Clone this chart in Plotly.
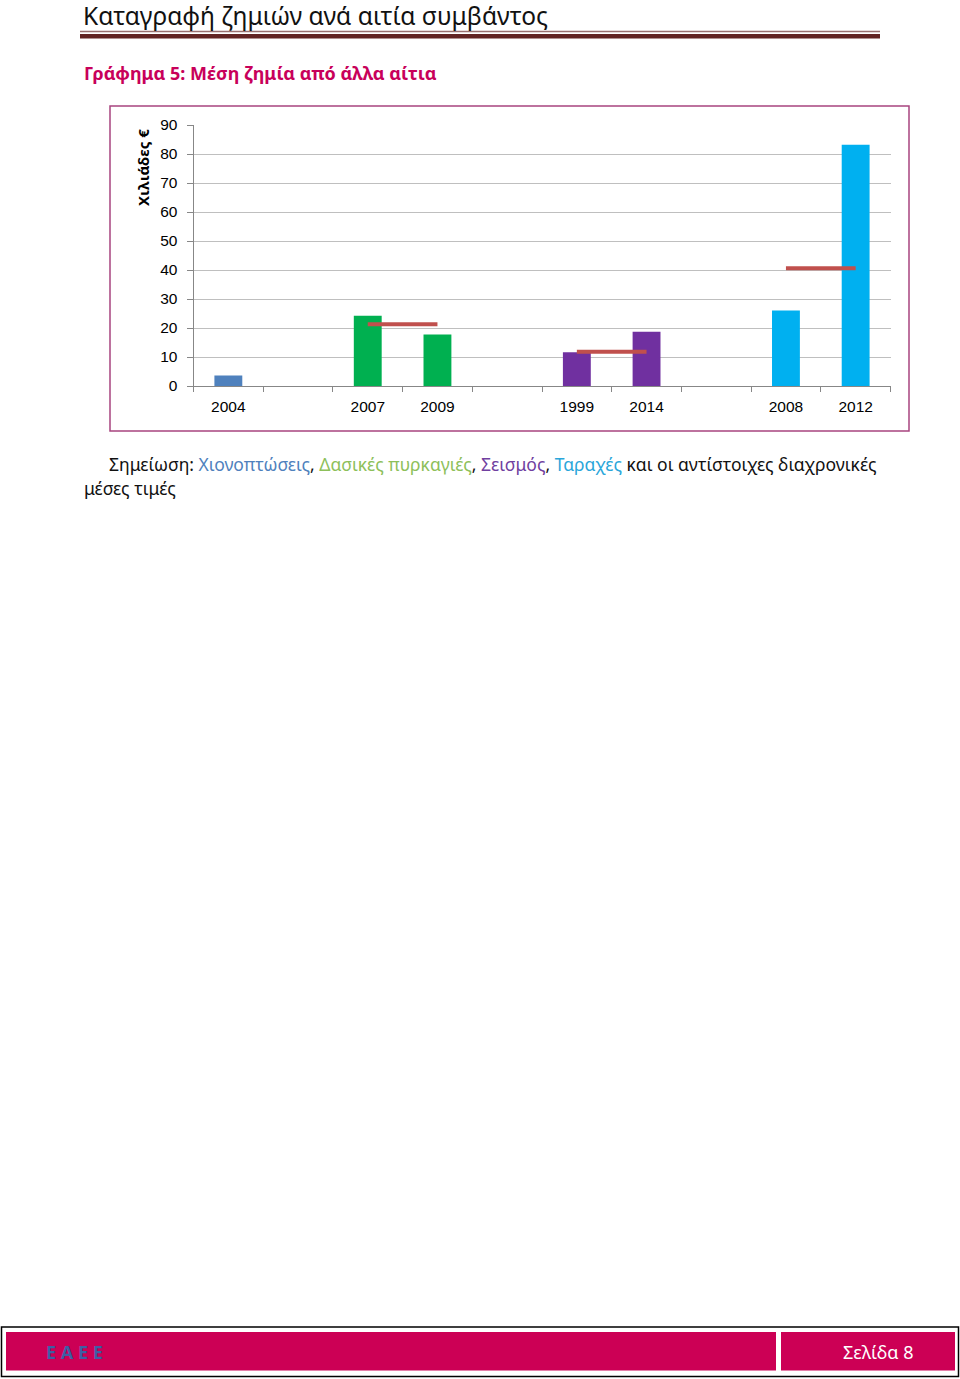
import plotly.graph_objects as go

W, H = 960, 1379

# ---- data ----
categories = ["2004", " ", "2007", "2009", "  ", "1999", "2014", "   ", "2008", "2012"]
snow_years = ["2004"]
snow_values = [3.6]
fire_years = ["2007", "2009"]
fire_values = [24.2, 17.8]
quake_years = ["1999", "2014"]
quake_values = [11.6, 18.7]
riot_years = ["2008", "2012"]
riot_values = [26.0, 83.2]
fire_mean = 21.3
quake_mean = 11.8
riot_mean = 40.6
y_ticks = [0, 10, 20, 30, 40, 50, 60, 70, 80, 90]


def px(x):
    return x / W


def py(y):
    return 1 - y / H


fig = go.Figure()

bar_w = 0.4
for yrs, vals, col in [
    (snow_years, snow_values, "#4F81BD"),
    (fire_years, fire_values, "#00B050"),
    (quake_years, quake_values, "#7030A0"),
    (riot_years, riot_values, "#00B0F0"),
]:
    fig.add_trace(go.Bar(x=yrs, y=vals, marker=dict(color=col, line=dict(width=0)),
                         width=bar_w, showlegend=False, hoverinfo="x+y"))

for yrs, m in [(fire_years, fire_mean), (quake_years, quake_mean), (riot_years, riot_mean)]:
    fig.add_trace(go.Scatter(x=yrs, y=[m] * len(yrs), mode="lines",
                             line=dict(color="#C0504D", width=4), showlegend=False))

tick_font = dict(family="Liberation Sans, Arial, sans-serif", size=15.5, color="#000")

fig.update_layout(
    width=W, height=H, autosize=False,
    margin=dict(l=0, r=0, t=0, b=0, pad=0, autoexpand=False),
    paper_bgcolor="white", plot_bgcolor="white",
    barmode="overlay",
    showlegend=False,
    font=dict(family="Liberation Sans, Arial, sans-serif", size=14, color="#000000"),
    xaxis=dict(
        domain=[px(193.5), px(890.5)],
        type="category", categoryorder="array", categoryarray=categories,
        range=[-0.5, len(categories) - 0.5],
        tickmode="array", tickvals=categories, ticktext=[c.strip() for c in categories],
        tickson="boundaries", ticks="outside", ticklen=5, tickcolor="#878787",
        showline=True, linecolor="#878787", linewidth=1,
        showgrid=False, zeroline=False,
        tickfont=tick_font,
        ticklabelstandoff=6,
        automargin=False,
        anchor="y",
    ),
    yaxis=dict(
        domain=[py(386), py(125)],
        range=[0, 90],
        tickmode="array", tickvals=y_ticks,
        ticks="outside", ticklen=6, tickcolor="#878787",
        showline=True, linecolor="#878787", linewidth=1,
        showgrid=True, gridcolor="#BFBFBF", gridwidth=1,
        zeroline=False,
        tickfont=tick_font,
        ticklabelstandoff=6,
        automargin=False,
        anchor="x",
    ),
)

shapes = []
# header rules
shapes.append(dict(type="line", xref="paper", yref="paper", x0=px(80), x1=px(880),
                   y0=py(31.5), y1=py(31.5), line=dict(color="#9A7070", width=1.5)))
shapes.append(dict(type="rect", xref="paper", yref="paper", x0=px(80), x1=px(880),
                   y0=py(38.5), y1=py(34), fillcolor="#622423", line=dict(width=0)))
# chart border
shapes.append(dict(type="rect", xref="paper", yref="paper", x0=px(110), x1=px(909),
                   y0=py(431), y1=py(106), line=dict(color="#A8447F", width=1.5), layer="below"))
# footer
shapes.append(dict(type="rect", xref="paper", yref="paper", x0=px(1.5), x1=px(958.5),
                   y0=py(1376.5), y1=py(1327), line=dict(color="#000000", width=1.5)))
shapes.append(dict(type="rect", xref="paper", yref="paper", x0=px(6), x1=px(776),
                   y0=py(1370.5), y1=py(1332), fillcolor="#CC0055", line=dict(width=0)))
shapes.append(dict(type="rect", xref="paper", yref="paper", x0=px(781), x1=px(955),
                   y0=py(1370.5), y1=py(1332), fillcolor="#CC0055", line=dict(width=0)))
fig.update_layout(shapes=shapes)

ann = []
ann.append(dict(text="Καταγραφή ζημιών ανά αιτία συμβάντος", xref="paper", yref="paper",
                x=px(82), y=py(15.5), xanchor="left", yanchor="middle", showarrow=False,
                borderpad=0,
                font=dict(family="Noto Sans, sans-serif", size=24.5, color="#111111")))
ann.append(dict(text="<b>Γράφημα 5: Μέση ζημία από άλλα αίτια</b>", xref="paper", yref="paper",
                x=px(82), y=py(73), xanchor="left", yanchor="middle", showarrow=False,
                font=dict(family="Noto Sans, sans-serif", size=18, color="#C8005A")))
ann.append(dict(text="<b>Χιλιάδες €</b>", xref="paper", yref="paper",
                x=px(143), y=py(168), xanchor="center", yanchor="middle", showarrow=False,
                textangle=-90,
                font=dict(family="Noto Sans, sans-serif", size=15, color="#000")))
note1 = ("Σημείωση: <span style='color:#4F81BD'>Χιονοπτώσεις</span>, "
         "<span style='color:#8DC05A'>Δασικές πυρκαγιές</span>, "
         "<span style='color:#7040A0'>Σεισμός</span>, "
         "<span style='color:#2AA6DA'>Ταραχές</span> και οι αντίστοιχες διαχρονικές")
ann.append(dict(text=note1, xref="paper", yref="paper",
                x=px(107), y=py(464), xanchor="left", yanchor="middle", showarrow=False,
                font=dict(family="Noto Sans, sans-serif", size=17.5, color="#111")))
ann.append(dict(text="μέσες τιμές", xref="paper", yref="paper",
                x=px(82), y=py(488), xanchor="left", yanchor="middle", showarrow=False,
                font=dict(family="Noto Sans, sans-serif", size=17.5, color="#111")))
ann.append(dict(text="<b>Ε Α Ε Ε</b>", xref="paper", yref="paper",
                x=px(74), y=py(1352), xanchor="center", yanchor="middle", showarrow=False,
                font=dict(family="Noto Sans, sans-serif", size=18, color="#3D5FA5")))
ann.append(dict(text="Σελίδα 8", xref="paper", yref="paper",
                x=px(916), y=py(1352), xanchor="right", yanchor="middle", showarrow=False,
                font=dict(family="Noto Sans, sans-serif", size=18, color="#FFFFFF")))
fig.update_layout(annotations=ann)

fig.write_html(
    "out.html",
    config={"displayModeBar": False, "responsive": False},
    post_script=(
        "document.documentElement.style.margin='0';"
        "document.body.style.margin='0';document.body.style.padding='0';"
        "document.documentElement.style.overflow='hidden';"
        "var gd=document.getElementById('{plot_id}');"
        "gd.style.position='fixed';gd.style.top='0px';gd.style.left='0px';"
    ),
)
